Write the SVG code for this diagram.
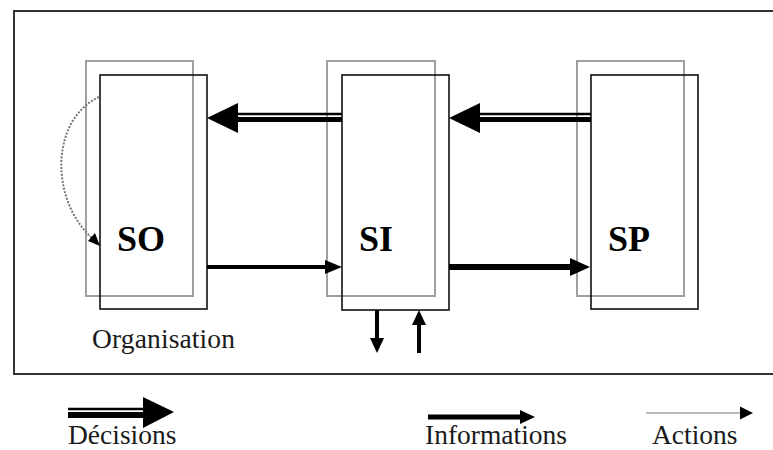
<svg xmlns="http://www.w3.org/2000/svg" width="773" height="450" viewBox="0 0 773 450">
<style>
.back{fill:none;stroke:#a0a0a0;stroke-width:2}
.front{fill:none;stroke:#111;stroke-width:1.6}
.lbl{font-family:'Liberation Serif','DejaVu Serif',serif;font-weight:bold;font-size:36px;fill:#000}
.txt{font-family:'Liberation Serif','DejaVu Serif',serif;font-size:27.5px;fill:#1a1a1a}
</style>
<rect width="773" height="450" fill="#fff"/>
<rect x="14" y="11" width="772" height="363" fill="none" stroke="#333" stroke-width="2"/>

<g id="SO">
<rect class="back" x="86" y="61" width="107" height="235"/>
<rect class="front" x="100" y="75" width="107" height="234"/>
<text class="lbl" x="117" y="251">SO</text>
</g>
<g id="SI">
<rect class="back" x="327" y="61" width="108" height="235"/>
<rect class="front" x="342" y="75" width="107" height="235"/>
<text class="lbl" x="359" y="251">SI</text>
</g>
<g id="SP">
<rect class="back" x="577" y="61" width="107" height="235"/>
<rect class="front" x="591" y="75" width="107" height="234"/>
<text class="lbl" x="608" y="251">SP</text>
</g>
<g id="organisation-label">
<text class="txt" x="92" y="348" textLength="143">Organisation</text>
</g>

<g id="connectors">
<line x1="238" y1="114" x2="342" y2="114" stroke="#000" stroke-width="2.5"/>
<line x1="238" y1="119.5" x2="342" y2="119.5" stroke="#000" stroke-width="5"/>
<polygon points="207,118 238,103 238,133" fill="#000"/>
<line x1="480" y1="114" x2="591" y2="114" stroke="#000" stroke-width="2.5"/>
<line x1="480" y1="119.5" x2="591" y2="119.5" stroke="#000" stroke-width="5"/>
<polygon points="449,118 480,103 480,133" fill="#000"/>
<line x1="207" y1="267" x2="327" y2="267" stroke="#000" stroke-width="4"/>
<polygon points="342,267 325,260 325,274" fill="#000"/>
<line x1="449" y1="267" x2="572" y2="267" stroke="#000" stroke-width="6"/>
<polygon points="590,267 570,258 570,276" fill="#000"/>
<line x1="377" y1="310" x2="377" y2="340" stroke="#000" stroke-width="4"/>
<polygon points="377,353 370,338 384,338" fill="#000"/>
<line x1="419" y1="353" x2="419" y2="323" stroke="#000" stroke-width="4"/>
<polygon points="419,310 412,325 426,325" fill="#000"/>
<path d="M99,97 C50,120 50,200 92,238" fill="none" stroke="#777" stroke-width="2" stroke-dasharray="2,1.5"/>
<polygon points="100,246 88,241 95,233" fill="#000"/>
</g>

<g id="legend">
<line x1="68" y1="409" x2="145" y2="409" stroke="#000" stroke-width="2.5"/>
<line x1="68" y1="415" x2="145" y2="415" stroke="#000" stroke-width="6"/>
<polygon points="174,412 143,397 143,428" fill="#000"/>
<text class="txt" x="68" y="444">Décisions</text>
<line x1="428" y1="417" x2="522" y2="417" stroke="#000" stroke-width="5"/>
<polygon points="535,417 520,410 520,424" fill="#000"/>
<text class="txt" x="425" y="444">Informations</text>
<line x1="646" y1="413" x2="742" y2="413" stroke="#777" stroke-width="1.2"/>
<polygon points="753,413 740,406.5 740,419.5" fill="#000"/>
<text class="txt" x="652" y="444">Actions</text>
</g>
</svg>
